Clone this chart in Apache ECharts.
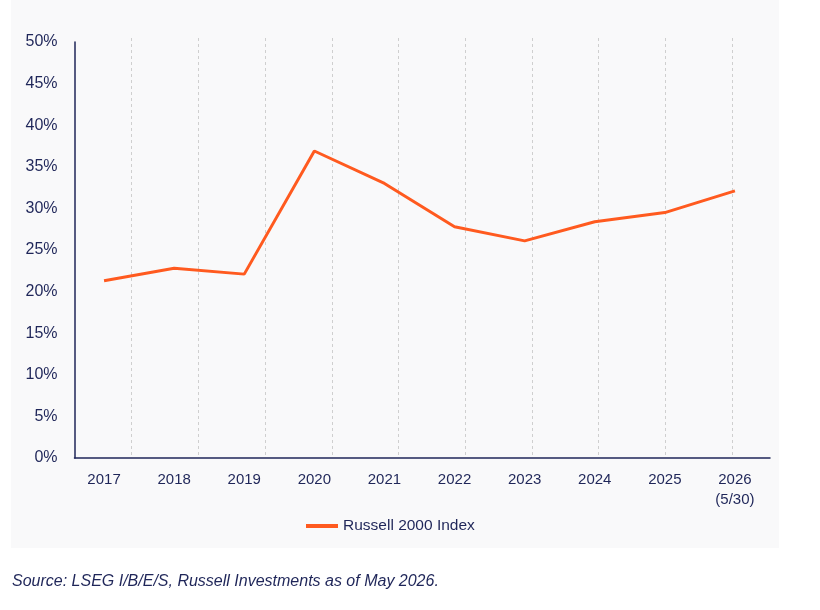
<!DOCTYPE html>
<html>
<head>
<meta charset="utf-8">
<script src="https://cdn.jsdelivr.net/npm/echarts@6/dist/echarts.min.js"></script>
<style>
  html, body { margin: 0; padding: 0; background: #ffffff; }
  #chart { width: 820px; height: 610px; }
</style>
</head>
<body>
<div id="chart"></div>
<script>
const categories = ['2017', '2018', '2019', '2020', '2021', '2022', '2023', '2024', '2025', '2026\n(5/30)'];
const russell2000 = [21.3, 22.8, 22.1, 36.9, 33.0, 27.8, 26.1, 28.4, 29.5, 32.1];
const seriesName = 'Russell 2000 Index';
const yTickFormat = '{value}%';
const sourceNote = 'Source: LSEG I/B/E/S, Russell Investments as of May 2026.';

const NAVY = '#1f2659';
const ORANGE = '#ff5a1f';
const FONT = '"Liberation Sans", Arial, sans-serif';

const chart = echarts.init(document.getElementById('chart'), null, { renderer: 'canvas' });

chart.setOption({
  animation: false,
  backgroundColor: '#ffffff',
  textStyle: { fontFamily: FONT },
  graphic: [
    {
      type: 'rect', z: -10, silent: true,
      shape: { x: 11, y: 0, width: 768, height: 548 },
      style: { fill: '#f9f9fa' }
    },
    {
      type: 'text', left: 12, top: 574, silent: true,
      style: {
        text: sourceNote,
        fill: NAVY,
        font: 'italic 16px "Liberation Sans", Arial, sans-serif'
      }
    }
  ],
  grid: [
    { left: 69, right: 50, top: 42, bottom: 152 },
    { left: 65, right: 88, top: 38, bottom: 152 },
    { left: 74.5, right: 50, top: 42, bottom: 152 }
  ],
  legend: {
    data: [seriesName],
    left: 301,
    top: 513,
    icon: 'rect',
    itemWidth: 32,
    itemHeight: 4,
    textStyle: { color: NAVY, fontSize: 15.5, fontFamily: FONT }
  },
  xAxis: [
    {
      gridIndex: 0,
      type: 'category',
      data: categories,
      boundaryGap: true,
      axisLine: { show: false },
      axisTick: { show: false },
      splitLine: { show: false },
      axisLabel: { color: NAVY, fontSize: 15, margin: 12, lineHeight: 20, fontFamily: FONT }
    },
    {
      gridIndex: 1,
      type: 'value',
      min: 0, max: 10, interval: 1,
      axisLine: { show: false },
      axisTick: { show: false },
      axisLabel: { show: false },
      splitLine: {
        show: true,
        showMinLine: false,
        showMaxLine: true,
        lineStyle: { color: '#cfcfcf', width: 1, type: [3, 3] }
      }
    },
    {
      gridIndex: 2,
      type: 'value',
      min: 0, max: 1,
      axisLine: { show: true, onZero: false, lineStyle: { color: NAVY, width: 1.5 } },
      axisTick: { show: false },
      axisLabel: { show: false },
      splitLine: { show: false }
    }
  ],
  yAxis: [
    {
      gridIndex: 0,
      type: 'value',
      min: 0, max: 50, interval: 5,
      show: false,
      splitLine: { show: false }
    },
    {
      gridIndex: 1,
      type: 'value',
      min: 0, max: 1,
      show: false,
      splitLine: { show: false }
    },
    {
      gridIndex: 2,
      type: 'value',
      min: 0, max: 50, interval: 5,
      axisLine: { show: true, lineStyle: { color: NAVY, width: 1.5 } },
      axisTick: { show: false },
      splitLine: { show: false },
      axisLabel: { color: NAVY, fontSize: 16, margin: 17, formatter: yTickFormat, fontFamily: FONT }
    }
  ],
  series: [
    {
      name: seriesName,
      type: 'line',
      xAxisIndex: 0,
      yAxisIndex: 0,
      data: russell2000,
      symbol: 'none',
      color: ORANGE,
      lineStyle: { color: ORANGE, width: 3 },
      z: 5
    }
  ]
});
</script>
</body>
</html>
